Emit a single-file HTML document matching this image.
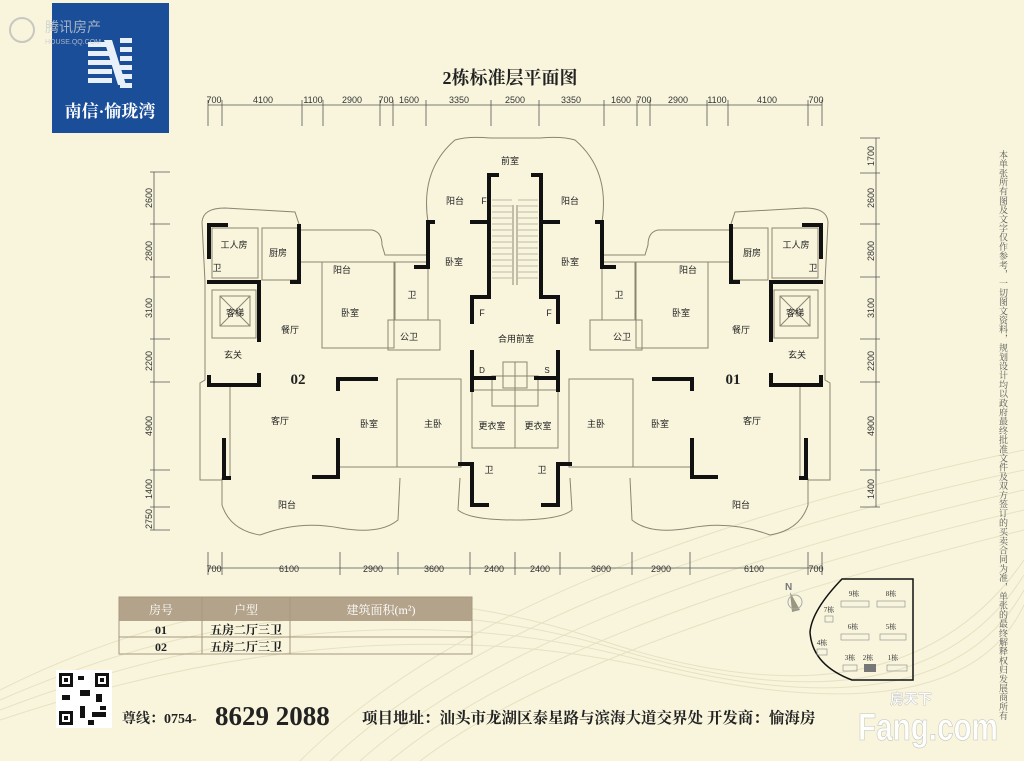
<!DOCTYPE html>
<html><head><meta charset="utf-8"><style>
html,body{margin:0;padding:0;background:#f8f5dc;}
body{width:1024px;height:761px;overflow:hidden;position:relative;font-family:"Liberation Sans","Noto Sans CJK SC",sans-serif;}
svg{position:absolute;left:0;top:0}
.t{font-family:"Liberation Serif","Noto Serif CJK SC",serif}
</style></head><body>
<svg width="1024" height="761" viewBox="0 0 1024 761" xmlns="http://www.w3.org/2000/svg">
<rect width="1024" height="761" fill="#f8f5dc"/>
<g fill="none" stroke="#e6e1c2" stroke-width="1">
<path d="M0 690 Q300 540 600 640 T1024 560"/><path d="M0 700 Q320 560 620 650 T1024 575"/>
<path d="M0 710 Q340 580 640 660 T1024 590"/><path d="M0 720 Q360 600 660 670 T1024 605"/>
<path d="M300 761 Q500 560 1024 450"/><path d="M330 761 Q520 580 1024 470"/><path d="M360 761 Q540 600 1024 490"/>
<path d="M390 761 Q560 620 1024 510"/><path d="M420 761 Q580 640 1024 530"/>
</g>
<rect x="52" y="3" width="117" height="130" fill="#1b4e98"/>
<g fill="#e8f0fa">
<rect x="88" y="42" width="24" height="5"/><rect x="88" y="51" width="24" height="5"/><rect x="88" y="60" width="24" height="5"/><rect x="88" y="69" width="24" height="5"/><rect x="88" y="78" width="24" height="5"/>
<rect x="120" y="38" width="12" height="5"/><rect x="120" y="47" width="12" height="5"/><rect x="120" y="56" width="12" height="5"/><rect x="120" y="65" width="12" height="5"/><rect x="120" y="74" width="12" height="5"/><rect x="120" y="83" width="12" height="5"/>
<polygon points="104,40 112,40 126,85 118,85"/>
</g>
<text x="110" y="117" font-size="17" fill="#fff" text-anchor="middle" class="t" font-weight="bold">南信·愉珑湾</text>
<text x="45" y="32" font-size="14" fill="#c9ccd0" opacity="0.8">腾讯房产</text>
<text x="45" y="44" font-size="7" fill="#c9ccd0" opacity="0.8">HOUSE.QQ.COM</text>
<circle cx="22" cy="30" r="12" fill="none" stroke="#c8c8c0" stroke-width="2"/>
<text x="510" y="84" font-size="18" font-weight="bold" text-anchor="middle" class="t" fill="#222">2栋标准层平面图</text>

<g stroke="#555" stroke-width="0.8" fill="none">
<line x1="208" y1="105" x2="822" y2="105"/>
<line x1="208" y1="568" x2="822" y2="568"/>
<line x1="154" y1="172" x2="154" y2="530"/>
<line x1="876" y1="138" x2="876" y2="507"/>
</g>
<g stroke="#555" stroke-width="0.8">
<line x1="208" y1="100" x2="208" y2="126"/><line x1="222" y1="100" x2="222" y2="126"/><line x1="302" y1="100" x2="302" y2="126"/><line x1="323" y1="100" x2="323" y2="126"/><line x1="380" y1="100" x2="380" y2="126"/><line x1="393" y1="100" x2="393" y2="126"/><line x1="426" y1="100" x2="426" y2="126"/><line x1="491" y1="100" x2="491" y2="126"/>
<line x1="822" y1="100" x2="822" y2="126"/><line x1="808" y1="100" x2="808" y2="126"/><line x1="728" y1="100" x2="728" y2="126"/><line x1="707" y1="100" x2="707" y2="126"/><line x1="650" y1="100" x2="650" y2="126"/><line x1="637" y1="100" x2="637" y2="126"/><line x1="604" y1="100" x2="604" y2="126"/><line x1="539" y1="100" x2="539" y2="126"/>
<line x1="208" y1="552" x2="208" y2="575"/><line x1="222" y1="552" x2="222" y2="575"/><line x1="340" y1="552" x2="340" y2="575"/><line x1="398" y1="552" x2="398" y2="575"/><line x1="470" y1="552" x2="470" y2="575"/><line x1="515" y1="552" x2="515" y2="575"/><line x1="560" y1="552" x2="560" y2="575"/><line x1="632" y1="552" x2="632" y2="575"/><line x1="690" y1="552" x2="690" y2="575"/><line x1="808" y1="552" x2="808" y2="575"/><line x1="822" y1="552" x2="822" y2="575"/>
<line x1="150" y1="172" x2="170" y2="172"/><line x1="150" y1="224" x2="170" y2="224"/><line x1="150" y1="277" x2="170" y2="277"/><line x1="150" y1="339" x2="170" y2="339"/><line x1="150" y1="382" x2="170" y2="382"/><line x1="150" y1="470" x2="170" y2="470"/><line x1="150" y1="507" x2="170" y2="507"/><line x1="150" y1="530" x2="170" y2="530"/>
<line x1="860" y1="138" x2="880" y2="138"/><line x1="860" y1="173" x2="880" y2="173"/><line x1="860" y1="224" x2="880" y2="224"/><line x1="860" y1="277" x2="880" y2="277"/><line x1="860" y1="339" x2="880" y2="339"/><line x1="860" y1="382" x2="880" y2="382"/><line x1="860" y1="470" x2="880" y2="470"/><line x1="860" y1="507" x2="880" y2="507"/>
</g>
<g font-size="9" fill="#333" text-anchor="middle">
<text x="214" y="103">700</text><text x="263" y="103">4100</text><text x="313" y="103">1100</text><text x="352" y="103">2900</text><text x="386" y="103">700</text><text x="409" y="103">1600</text><text x="459" y="103">3350</text><text x="515" y="103">2500</text><text x="571" y="103">3350</text><text x="621" y="103">1600</text><text x="644" y="103">700</text><text x="678" y="103">2900</text><text x="717" y="103">1100</text><text x="767" y="103">4100</text><text x="816" y="103">700</text>
<text x="214" y="572">700</text><text x="289" y="572">6100</text><text x="373" y="572">2900</text><text x="434" y="572">3600</text><text x="494" y="572">2400</text><text x="540" y="572">2400</text><text x="601" y="572">3600</text><text x="661" y="572">2900</text><text x="754" y="572">6100</text><text x="816" y="572">700</text>
<g transform="rotate(-90)">
<text x="-198" y="152">2600</text><text x="-251" y="152">2800</text><text x="-308" y="152">3100</text><text x="-361" y="152">2200</text><text x="-426" y="152">4900</text><text x="-489" y="152">1400</text><text x="-519" y="152">2750</text>
<text x="-156" y="874">1700</text><text x="-198" y="874">2600</text><text x="-251" y="874">2800</text><text x="-308" y="874">3100</text><text x="-361" y="874">2200</text><text x="-426" y="874">4900</text><text x="-489" y="874">1400</text>
</g></g>

<g id="half">
<g fill="none" stroke="#8a8570" stroke-width="1">
<path d="M205 282 L202 222 Q203 208 225 208 L295 212 L299 224"/>
<path d="M300 230 L372 230 Q382 232 382 245 L385 255 L428 255"/>
<path d="M428 222 Q420 170 455 140 Q468 136 490 138 L515 138"/>
<path d="M222 478 L222 505 Q230 530 260 535 Q300 520 340 528 Q380 535 398 520 L400 478"/>
<path d="M460 478 L458 510 Q470 520 515 520"/>
<path d="M205 282 L205 380 L200 383 L200 480 L222 480"/>
<rect x="212" y="228" width="46" height="50"/>
<rect x="262" y="228" width="37" height="52"/>
<rect x="212" y="290" width="44" height="48"/>
<rect x="322" y="262" width="72" height="86"/>
<rect x="395" y="262" width="33" height="58"/>
<rect x="388" y="320" width="52" height="30"/>
<rect x="397" y="379" width="64" height="88"/>
<rect x="472" y="390" width="43" height="58"/>
<rect x="492" y="376" width="23" height="30"/>
<line x1="340" y1="467" x2="458" y2="467"/>
<line x1="300" y1="262" x2="322" y2="262"/>
<line x1="230" y1="385" x2="230" y2="478"/>
<g stroke="#aaa49a" stroke-width="0.7">
<line x1="492" y1="200" x2="512" y2="200"/><line x1="492" y1="206" x2="512" y2="206"/><line x1="492" y1="212" x2="512" y2="212"/><line x1="492" y1="218" x2="512" y2="218"/><line x1="492" y1="224" x2="512" y2="224"/><line x1="492" y1="230" x2="512" y2="230"/><line x1="492" y1="236" x2="512" y2="236"/><line x1="492" y1="242" x2="512" y2="242"/><line x1="492" y1="248" x2="512" y2="248"/><line x1="492" y1="254" x2="512" y2="254"/><line x1="492" y1="260" x2="512" y2="260"/><line x1="492" y1="266" x2="512" y2="266"/><line x1="492" y1="272" x2="512" y2="272"/><line x1="492" y1="278" x2="512" y2="278"/>
</g>
<line x1="513" y1="205" x2="513" y2="285"/>
<rect x="220" y="296" width="30" height="30"/>
<line x1="220" y1="296" x2="250" y2="326"/><line x1="250" y1="296" x2="220" y2="326"/>
<rect x="503" y="362" width="12" height="26"/>
</g>
<g stroke="#111" stroke-width="4" fill="none" stroke-linecap="square">
<path d="M226 225 L209 225 L209 257"/>
<path d="M299 226 L299 282 L292 282"/>
<path d="M209 282 L259 282 L259 340"/>
<path d="M209 377 L209 385 L259 385 L259 375"/>
<path d="M376 379 L338 379 L338 389"/>
<path d="M338 440 L338 477 L314 477"/>
<path d="M224 440 L224 478 L229 478"/>
<path d="M433 222 L428 222 L428 267 L416 267"/>
<path d="M472 222 L489 222"/>
<path d="M497 175 L489 175 L489 297 L472 297 L472 322"/>
<path d="M472 352 L472 390"/><path d="M472 378 L494 378"/>
<path d="M460 464 L472 464 L472 505 L487 505"/>
</g>
</g>
<use href="#half" transform="translate(1030,0) scale(-1,1)"/>

<g font-size="9" fill="#222" text-anchor="middle">
<text x="510" y="164">前室</text><text x="455" y="204">阳台</text><text x="570" y="204">阳台</text><text x="484" y="204">F</text>
<text x="234" y="248">工人房</text><text x="278" y="256">厨房</text><text x="342" y="273">阳台</text><text x="454" y="265">卧室</text><text x="570" y="265">卧室</text><text x="688" y="273">阳台</text><text x="752" y="256">厨房</text><text x="796" y="248">工人房</text>
<text x="217" y="271">卫</text><text x="813" y="271">卫</text><text x="412" y="298">卫</text><text x="619" y="298">卫</text>
<text x="235" y="316">客梯</text><text x="350" y="316">卧室</text><text x="482" y="316">F</text><text x="549" y="316">F</text><text x="681" y="316">卧室</text><text x="795" y="316">客梯</text>
<text x="290" y="333">餐厅</text><text x="741" y="333">餐厅</text><text x="409" y="340">公卫</text><text x="516" y="342">合用前室</text><text x="622" y="340">公卫</text>
<text x="233" y="358">玄关</text><text x="797" y="358">玄关</text><text x="482" y="373" font-size="8">D</text><text x="547" y="373" font-size="8">S</text>
<text x="280" y="424">客厅</text><text x="369" y="427">卧室</text><text x="433" y="427">主卧</text><text x="492" y="429">更衣室</text><text x="538" y="429">更衣室</text><text x="596" y="427">主卧</text><text x="660" y="427">卧室</text><text x="752" y="424">客厅</text>
<text x="489" y="473">卫</text><text x="542" y="473">卫</text><text x="287" y="508">阳台</text><text x="741" y="508">阳台</text>
</g>
<text x="298" y="384" font-size="15" font-weight="bold" text-anchor="middle" class="t" fill="#222">02</text>
<text x="733" y="384" font-size="15" font-weight="bold" text-anchor="middle" class="t" fill="#222">01</text>

<rect x="119" y="597" width="353" height="24" fill="#b3a38a"/>
<g stroke="#a8987e" stroke-width="1" fill="none">
<rect x="119" y="597" width="353" height="57"/>
<line x1="119" y1="637" x2="472" y2="637"/>
<line x1="202" y1="597" x2="202" y2="654"/><line x1="290" y1="597" x2="290" y2="654"/>
</g>
<g font-size="12" fill="#fff" text-anchor="middle" class="t"><text x="161" y="614">房号</text><text x="246" y="614">户型</text><text x="381" y="614">建筑面积(m²)</text></g>
<g font-size="12" fill="#222" text-anchor="middle" class="t" font-weight="bold"><text x="161" y="634">01</text><text x="246" y="634">五房二厅三卫</text><text x="161" y="651">02</text><text x="246" y="651">五房二厅三卫</text></g>

<rect x="56" y="670" width="56" height="58" fill="#fff"/>
<g fill="#111">
<rect x="59" y="673" width="14" height="14"/><rect x="95" y="673" width="14" height="14"/><rect x="59" y="711" width="14" height="14"/>
<rect x="78" y="676" width="6" height="4"/><rect x="80" y="690" width="10" height="6"/><rect x="62" y="695" width="8" height="5"/><rect x="96" y="694" width="6" height="8"/><rect x="80" y="706" width="5" height="12"/><rect x="92" y="712" width="14" height="5"/><rect x="88" y="720" width="6" height="5"/><rect x="100" y="706" width="6" height="4"/>
</g>
<g fill="#fff"><rect x="62" y="676" width="8" height="8"/><rect x="98" y="676" width="8" height="8"/><rect x="62" y="714" width="8" height="8"/></g>
<g fill="#111"><rect x="64" y="678" width="4" height="4"/><rect x="100" y="678" width="4" height="4"/><rect x="64" y="716" width="4" height="4"/></g>

<text x="122" y="723" font-size="14" font-weight="bold" class="t" fill="#222">尊线：0754-</text>
<text x="215" y="725" font-size="27" font-weight="bold" class="t" fill="#222">8629 2088</text>
<text x="362" y="723" font-size="15.5" font-weight="bold" class="t" fill="#222">项目地址：汕头市龙湖区泰星路与滨海大道交界处  开发商：愉海房</text>

<path d="M842 579 L913 579 L913 680 L852 680 Q812 665 810 632 Q812 610 842 579 Z" fill="none" stroke="#111" stroke-width="1.5"/>
<g font-size="7" fill="#333" text-anchor="middle" class="t">
<text x="854" y="596">9栋</text><text x="891" y="596">8栋</text><text x="829" y="612">7栋</text><text x="853" y="629">6栋</text><text x="891" y="629">5栋</text><text x="822" y="645">4栋</text><text x="850" y="660">3栋</text><text x="868" y="660">2栋</text><text x="893" y="660">1栋</text>
</g>
<g fill="none" stroke="#888" stroke-width="0.6">
<rect x="841" y="601" width="28" height="6"/><rect x="877" y="601" width="28" height="6"/><rect x="825" y="616" width="8" height="6"/><rect x="841" y="634" width="28" height="6"/><rect x="880" y="634" width="26" height="6"/><rect x="817" y="649" width="10" height="6"/><rect x="843" y="665" width="14" height="6"/><rect x="887" y="665" width="20" height="6"/>
</g>
<rect x="864" y="664" width="12" height="8" fill="#777"/>
<text x="785" y="590" font-size="10" fill="#777" font-weight="bold">N</text>
<path d="M790 592 L800 610 L792 612 Z" fill="#9a9780"/><circle cx="795" cy="602" r="7" fill="none" stroke="#aaa"/>

<text x="1003" y="150" font-size="9" fill="#555" class="t" style="writing-mode:vertical-rl" letter-spacing="0.2">本单张所有图及文字仅作参考，一切图文资料，规划设计均以政府最终批准文件及双方签订的买卖合同为准，单张的最终解释权归发展商所有</text>

<text x="858" y="740" font-size="38" font-weight="bold" fill="#fff" opacity="0.9" stroke="#bbb" stroke-width="0.6" textLength="140" lengthAdjust="spacingAndGlyphs">Fang.com</text>
<text x="890" y="704" font-size="14" font-weight="bold" fill="#fff" stroke="#bbb" stroke-width="0.4">房天下</text>
</svg>
</body></html>
